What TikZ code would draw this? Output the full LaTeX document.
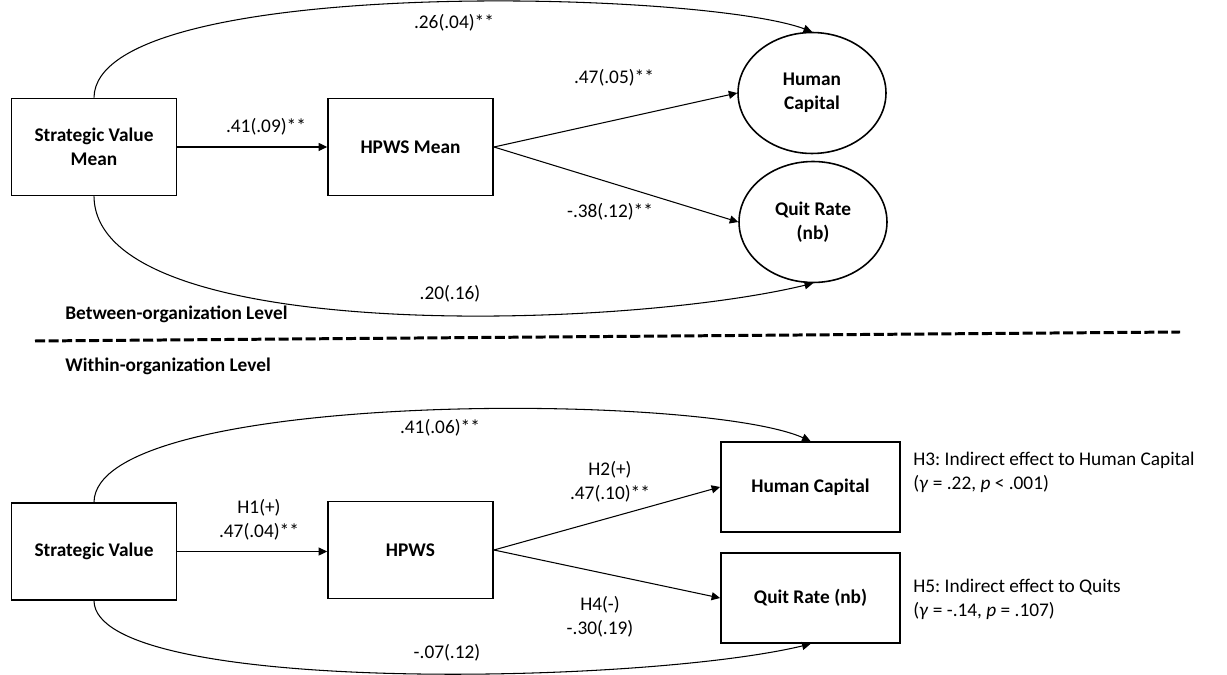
\documentclass[tikz,border=0pt]{standalone}
\usepackage{fontspec}
\setmainfont{Carlito}
\usetikzlibrary{arrows.meta,shapes.geometric}
\frenchspacing

\begin{document}
\begin{tikzpicture}[x=0.02cm, y=-0.02cm,
    font=\fontsize{11}{13.4}\selectfont,
    varbox/.style={draw, line width=1.1pt, minimum width=3.3cm, minimum height=1.94cm, align=center, font=\fontsize{11}{13.4}\selectfont\bfseries},
    latent/.style={draw, ellipse, line width=0.9pt, minimum width=2.96cm, minimum height=2.42cm, inner sep=0pt, align=center, font=\fontsize{11}{13.4}\selectfont\bfseries},
    effect/.style={-{Triangle[length=4.8pt,width=4.6pt]}, line width=0.6pt},
    coef/.style={inner sep=0pt, align=center},
    levellabel/.style={inner sep=0pt, anchor=west, font=\fontsize{11}{13.4}\selectfont\bfseries},
    note/.style={inner sep=0pt, anchor=west, align=left, font=\fontsize{11}{14}\selectfont}]
    \useasboundingbox (0,0) rectangle (1227,675);

    % Between-organization level
    \node[varbox] (svm) at (94,147) {Strategic Value\\Mean};
    \node[varbox] (hpwsm) at (410.5,147) {HPWS Mean};
    \node[latent] (hcm) at (812,93) {Human\\Capital};
    \node[latent] (qrm) at (813,222) {Quit Rate\\(nb)};

    \draw[effect] (svm.east) -- (hpwsm.west);
    \draw[effect] (hpwsm.east) -- (hcm.west);
    \draw[effect] (hpwsm.east) -- (qrm.west);
    \draw[effect] (svm.north) .. controls (96,-25) and (700,-10) .. (hcm.north);
    \draw[effect] (svm.south) .. controls (96,345) and (620,330) .. (qrm.south);

    \node[coef] (cSvHp) at (266,127) {.41(.09)**};
    \node[coef] (cSvHc) at (454,23) {.26(.04)**};
    \node[coef] (cHpHc) at (614,78) {.47(.05)**};
    \node[coef] (cHpQr) at (610,212) {-.38(.12)**};
    \node[coef] (cSvQr) at (450,294) {.20(.16)};

    % Level divider
    \node[levellabel] (between) at (65,314) {Between-organization Level};
    \coordinate (divL) at (35,341);
    \coordinate (divR) at (1180,332);
    \draw[line width=1.7pt, dash pattern=on 5.7pt off 2pt] (divL) -- (divR);
    \node[levellabel] (within) at (65,366) {Within-organization Level};

    % Within-organization level
    \node[varbox] (sv) at (94,551.5) {Strategic Value};
    \node[varbox] (hpws) at (410.5,550) {HPWS};
    \node[varbox, minimum width=3.58cm, minimum height=1.8cm] (hc) at (810.5,487) {Human Capital};
    \node[varbox, minimum width=3.58cm, minimum height=1.8cm] (qr) at (810.5,598) {Quit Rate (nb)};

    \draw[effect] (sv.east) -- (sv.east -| hpws.west);
    \draw[effect] (hpws.east) -- (hc.west);
    \draw[effect] (hpws.east) -- (qr.west);
    \draw[effect] (sv.north) .. controls (96,390) and (700,392) .. (hc.north);
    \draw[effect] (sv.south) .. controls (96,695) and (640,685) .. (qr.south);

    \node[coef] (hOne) at (259,520) {H1(+)\\.47(.04)**};
    \node[coef] (hTwo) at (610,481.5) {H2(+)\\.47(.10)**};
    \node[coef] (hFour) at (600,616.5) {H4(-)\\-.30(.19)};
    \node[coef] (cSvHcW) at (440,428) {.41(.06)**};
    \node[coef] (cSvQrW) at (447,653) {-.07(.12)};

    % Indirect effects
    \node[note] (hThree) at (913,472.5) {H3: Indirect effect to Human Capital\\(\textit{γ} = .22, \textit{p} < .001)};
    \node[note] (hFive) at (913,599.5) {H5: Indirect effect to Quits\\(\textit{γ} = -.14, \textit{p} = .107)};
\end{tikzpicture}
\end{document}
